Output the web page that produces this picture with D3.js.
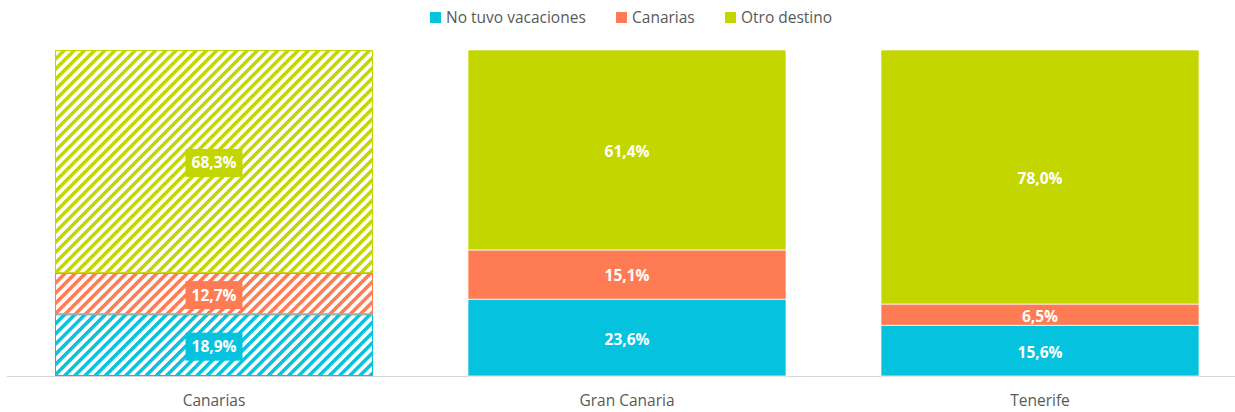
<!DOCTYPE html>
<html>
<head>
<meta charset="utf-8">
<script src="https://cdn.jsdelivr.net/npm/d3@7"></script>
<style>
  body { margin: 0; background: #fff; }
  text { font-family: "Open Sans", sans-serif; }
</style>
</head>
<body>
<div id="chart"></div>
<script>
const categories = ['Canarias', 'Gran Canaria', 'Tenerife'];
const seriesNames = ['No tuvo vacaciones', 'Canarias', 'Otro destino'];
const noVacaciones = [18.9, 23.6, 15.6];
const canarias = [12.7, 15.1, 6.5];
const otroDestino = [68.3, 61.4, 78.0];
const labels = [
  ['18,9%', '23,6%', '15,6%'],
  ['12,7%', '15,1%', '6,5%'],
  ['68,3%', '61,4%', '78,0%']
];
const colors = ['#05c3de', '#ff7b53', '#c4d600'];

const width = 1235, height = 412;
const plotTop = 50, plotBottom = 376;

const svg = d3.select('#chart').append('svg')
  .attr('width', width)
  .attr('height', height);

// hatch patterns for the first bar
const defs = svg.append('defs');
colors.forEach((c, i) => {
  const p = defs.append('pattern')
    .attr('id', 'hatch' + i)
    .attr('patternUnits', 'userSpaceOnUse')
    .attr('width', 7.2)
    .attr('height', 7.2)
    .attr('patternTransform', 'rotate(45)');
  p.append('rect').attr('width', 7.2).attr('height', 7.2).attr('fill', '#fff');
  p.append('rect').attr('width', 3.5).attr('height', 7.2).attr('fill', c);
});

const data = categories.map((cat, i) => ({
  cat: cat,
  s0: noVacaciones[i],
  s1: canarias[i],
  s2: otroDestino[i]
}));

const stack = d3.stack().keys(['s0', 's1', 's2']).offset(d3.stackOffsetExpand);
const series = stack(data);

const x = d3.scaleBand()
  .domain(categories)
  .range([7.5, 1246.5])
  .paddingInner(0.23)
  .paddingOuter(0.115);

const y = d3.scaleLinear().domain([0, 1]).range([plotBottom, plotTop]);

// axis line
svg.append('line')
  .attr('x1', 7).attr('x2', width)
  .attr('y1', plotBottom + 0.5).attr('y2', plotBottom + 0.5)
  .attr('stroke', '#d9d9d9');

const layers = svg.append('g').selectAll('g')
  .data(series)
  .join('g');

layers.selectAll('rect')
  .data((s, si) => s.map((d, j) => ({ d: d, si: si, j: j })))
  .join('rect')
  .attr('x', o => x(categories[o.j]) + (o.j === 0 ? 0.5 : 0))
  .attr('y', o => y(o.d[1]) + (o.j === 0 ? 0.5 : 0))
  .attr('width', o => x.bandwidth() - (o.j === 0 ? 1 : 0))
  .attr('height', o => y(o.d[0]) - y(o.d[1]) - (o.j === 0 ? 1 : 0))
  .attr('fill', o => o.j === 0 ? `url(#hatch${o.si})` : colors[o.si])
  .attr('stroke', o => o.j === 0 ? colors[o.si] : '#fff')
  .attr('stroke-width', o => o.j === 0 ? 1 : 0.7);

// value labels
const lab = layers.selectAll('g.lab')
  .data((s, si) => s.map((d, j) => ({ d: d, si: si, j: j })))
  .join('g')
  .attr('class', 'lab')
  .attr('transform', o => `translate(${x(categories[o.j]) + x.bandwidth() / 2},${(y(o.d[0]) + y(o.d[1])) / 2 + 1.5})`);

lab.each(function (o) {
  const g = d3.select(this);
  const t = g.append('text')
    .attr('text-anchor', 'middle')
    .attr('dy', '0.35em')
    .attr('fill', '#fff')
    .attr('font-weight', 'bold')
    .attr('font-size', 15.5)
    .text(labels[o.si][o.j]);
  if (o.j === 0) {
    const w = t.node().getComputedTextLength();
    g.insert('rect', 'text')
      .attr('x', -w / 2 - 6)
      .attr('y', -14)
      .attr('width', w + 12)
      .attr('height', 28)
      .attr('fill', colors[o.si]);
  }
});

// category labels
svg.append('g').selectAll('text')
  .data(categories)
  .join('text')
  .attr('x', d => x(d) + x.bandwidth() / 2)
  .attr('y', 406)
  .attr('text-anchor', 'middle')
  .attr('font-size', 15.5)
  .attr('fill', '#595959')
  .text(d => d);

// legend
const legendX = [430, 616, 725];
const legend = svg.append('g').selectAll('g')
  .data(seriesNames)
  .join('g')
  .attr('transform', (d, i) => `translate(${legendX[i]},12)`);
legend.append('rect')
  .attr('width', 11).attr('height', 11)
  .attr('fill', (d, i) => colors[i]);
legend.append('text')
  .attr('x', 16).attr('y', 5.5)
  .attr('dy', '0.35em')
  .attr('font-size', 15.5)
  .attr('fill', '#595959')
  .text(d => d);
</script>
</body>
</html>
